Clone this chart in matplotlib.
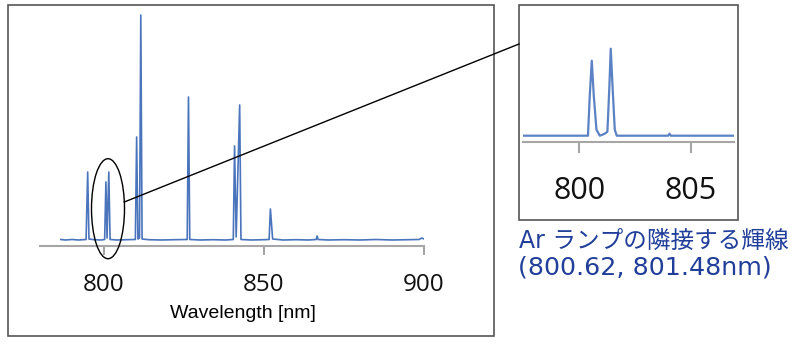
import matplotlib.pyplot as plt
import matplotlib.patches as mpatches

W, H = 799, 344

# Ar lamp spectrum, full range (wavelength nm, intensity a.u.)
main_wl = [786.5, 788, 790, 792, 794.4, 794.9, 795.3, 797, 799, 800.2, 800.6, 800.95,
           801.5, 801.9, 804, 807, 809.8, 810.2, 810.6, 811.1, 811.5, 811.9, 814, 818,
           822, 826.0, 826.4, 826.8, 830, 834, 838, 840.4, 840.8, 841.3, 842.4, 842.8,
           846, 850, 851.6, 852.0, 852.7, 856, 860, 864, 866.3, 866.6, 866.9, 870, 875,
           880, 885, 890, 895, 898.5, 899.3, 900]
main_int = [0.5, 0, 0.5, 0, 0.5, 68, 1, 0.3, 0, 0.5, 58, 2,
            68, 0.5, 0, 0.3, 0.5, 103, 1, 2, 225, 1, 0.3, 0,
            0.3, 0.5, 143, 0.5, 0, 0.3, 0, 0.5, 94, 3, 135, 0.5,
            0, 0.3, 0.5, 31, 1, 0, 0.3, 0, 0.5, 4, 0.5, 0, 0.3,
            0, 0.5, 0, 0.3, 0.5, 2, 1]

# zoomed region around the two adjacent lines
ins_wl = [797.5, 799.0, 800.39, 800.47, 800.56, 800.65, 800.77, 800.92, 801.14,
          801.26, 801.35, 801.41, 801.50, 801.59, 801.68, 803.0, 803.98, 804.04,
          804.1, 805.5, 806.93]
ins_int = [0, 0, 0, 40, 75, 40, 6, 0, 2,
           4, 50, 87, 45, 6, 0, 0, 0, 2,
           0, 0, 0]

main_ticks = [800, 850, 900]
ins_ticks = [800, 805]
xlabel = 'Wavelength [nm]'
note1 = 'Ar ランプの隣接する輝線'
note2 = '(800.62, 801.48nm)'


def px_axes(fig, x0, y0, x1, y1):
    return fig.add_axes([x0 / W, 1 - y1 / H, (x1 - x0) / W, (y1 - y0) / H])


def style(ax, ticks, ticklen, fs, pad):
    for s in ['top', 'left', 'right']:
        ax.spines[s].set_visible(False)
    ax.spines['bottom'].set_color('#a6a6a6')
    ax.spines['bottom'].set_linewidth(1.5)
    ax.set_yticks([])
    ax.set_xticks(ticks)
    ax.tick_params(axis='x', direction='out', length=ticklen, width=1.5,
                   color='#a6a6a6', labelsize=fs, pad=pad)
    for lab in ax.get_xticklabels():
        lab.set_fontfamily('Open Sans')
        lab.set_fontweight(500)
        lab.set_color('#111111')
    ax.patch.set_alpha(0)


fig = plt.figure(figsize=(W / 100, H / 100), dpi=100)

ax = px_axes(fig, 40, 10, 424, 246)
ax.plot(main_wl, main_int, color='#4a74bb', lw=1.2)
ax.set_xlim(780, 900)
ax.set_ylim(-6, 230)
style(ax, main_ticks, 6.5, 17.5, 13)

ax2 = px_axes(fig, 523, 10, 734, 141.7)
ax2.plot(ins_wl, ins_int, color='#5b82c4', lw=1.6)
ax2.set_xlim(797.48, 806.93)
ax2.set_ylim(-6, 125.7)
style(ax2, ins_ticks, 8, 22, 17)

# overlay in pixel coordinates for frames, ellipse and connector
ov = fig.add_axes([0, 0, 1, 1])
ov.set_xlim(0, W)
ov.set_ylim(H, 0)
ov.axis('off')
ov.add_patch(mpatches.Rectangle((8, 5), 486, 331, fill=False, edgecolor='#555555', lw=1.2))
ov.add_patch(mpatches.Rectangle((519, 5), 219, 215, fill=False, edgecolor='#555555', lw=1.2))
ov.add_patch(mpatches.Ellipse((108, 208.7), 33, 100, fill=False, edgecolor='black', lw=1))
ov.plot([124.3, 519], [202, 44], color='black', lw=1)

ov.text(243, 313, xlabel, ha='center', va='center', fontsize=14, family='Liberation Sans')
ov.text(519, 241, note1, ha='left', va='center', fontsize=17, color='#213f9a',
        family=['DejaVu Sans', 'Noto Sans CJK JP'])
ov.text(518, 268, note2, ha='left', va='center', fontsize=18.3, color='#213f9a',
        family=['DejaVu Sans', 'Noto Sans CJK JP'])

plt.savefig('out.png', dpi=100, facecolor='white')
